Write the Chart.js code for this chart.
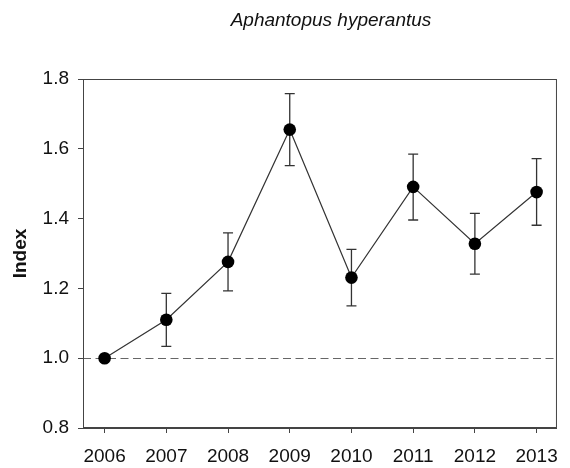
<!DOCTYPE html>
<html lang="en">
<head>
    <meta charset="UTF-8">
    <title>Aphantopus hyperantus</title>
    <script src="https://cdn.jsdelivr.net/npm/chart.js"></script>
    <style>
        html, body { margin: 0; padding: 0; background: #fff; }
        #wrap { width: 570px; height: 468px; }
    </style>
</head>
<body>
    <div id="wrap"><canvas id="indexChart" width="570" height="468"></canvas></div>
    <script>
        // data
        const years = [2006, 2007, 2008, 2009, 2010, 2011, 2012, 2013];
        const indexValues = [1.0, 1.110, 1.276, 1.655, 1.231, 1.491, 1.328, 1.476];
        const lowerCI = [null, 1.034, 1.193, 1.552, 1.150, 1.396, 1.241, 1.381];
        const upperCI = [null, 1.186, 1.359, 1.758, 1.312, 1.585, 1.415, 1.572];
        const yTicks = [0.8, 1.0, 1.2, 1.4, 1.6, 1.8];
        const baseline = 1.0;
        const titleText = 'Aphantopus hyperantus';

        const FONT = '"Liberation Sans", Arial, sans-serif';

        // frame, dashed reference line and error bars
        const extras = {
            id: 'extras',
            beforeDatasetsDraw(chart) {
                const { ctx, chartArea, scales } = chart;
                const x = scales.x, y = scales.y;
                ctx.save();
                // dashed line at 1.0
                ctx.strokeStyle = '#666';
                ctx.lineWidth = 1;
                ctx.setLineDash([8, 4.5]);
                const by = Math.round(y.getPixelForValue(baseline)) + 0.5;
                ctx.beginPath();
                ctx.moveTo(chartArea.left, by);
                ctx.lineTo(chartArea.right, by);
                ctx.stroke();
                ctx.setLineDash([]);
                // error bars
                ctx.strokeStyle = '#333';
                ctx.lineWidth = 1.3;
                years.forEach((yr, i) => {
                    if (lowerCI[i] == null) return;
                    const px = x.getPixelForValue(yr);
                    const lo = y.getPixelForValue(lowerCI[i]);
                    const hi = y.getPixelForValue(upperCI[i]);
                    ctx.beginPath();
                    ctx.moveTo(px, lo); ctx.lineTo(px, hi);
                    ctx.moveTo(px - 5, lo); ctx.lineTo(px + 5, lo);
                    ctx.moveTo(px - 5, hi); ctx.lineTo(px + 5, hi);
                    ctx.stroke();
                });
                ctx.restore();
            },
            afterDraw(chart) {
                const { ctx, chartArea } = chart;
                ctx.save();
                ctx.strokeStyle = '#444';
                ctx.lineWidth = 1;
                ctx.strokeRect(chartArea.left + 0.5, chartArea.top + 0.5,
                    chartArea.right - chartArea.left - 1, chartArea.bottom - chartArea.top - 1);
                // title
                ctx.fillStyle = '#111';
                ctx.font = 'italic 19px ' + FONT;
                ctx.textAlign = 'center';
                ctx.textBaseline = 'middle';
                ctx.fillText(titleText, 331, 21);
                ctx.restore();
            }
        };

        new Chart(document.getElementById('indexChart'), {
            type: 'line',
            data: {
                datasets: [{
                    label: 'Index',
                    data: years.map((yr, i) => ({ x: yr, y: indexValues[i] })),
                    borderColor: '#333',
                    borderWidth: 1.2,
                    pointRadius: 6.3,
                    pointBackgroundColor: '#000',
                    pointBorderColor: '#000',
                    pointBorderWidth: 0,
                    tension: 0
                }]
            },
            options: {
                responsive: false,
                animation: false,
                layout: { padding: { left: 0, right: 4, top: 79, bottom: 0 } },
                plugins: {
                    legend: { display: false },
                    tooltip: { enabled: false }
                },
                scales: {
                    x: {
                        type: 'linear',
                        min: 2005.65,
                        max: 2013.33,
                        afterBuildTicks: s => { s.ticks = years.map(v => ({ value: v })); },
                        afterFit: s => { s.height = 40; },
                        border: { display: true, color: '#444', width: 1 },
                        grid: { drawOnChartArea: false, drawTicks: true, tickLength: 5, color: '#444' },
                        ticks: {
                            padding: 12,
                            maxRotation: 0,
                            color: '#111',
                            font: { family: FONT, size: 19 },
                            callback: v => String(v)
                        }
                    },
                    y: {
                        min: 0.8,
                        max: 1.8,
                        afterBuildTicks: s => { s.ticks = yTicks.map(v => ({ value: v })); },
                        afterFit: s => { s.width = 83; },
                        border: { display: true, color: '#444', width: 1 },
                        grid: { drawOnChartArea: false, drawTicks: true, tickLength: 5, color: '#444' },
                        ticks: {
                            padding: 9,
                            color: '#111',
                            font: { family: FONT, size: 19 },
                            callback: v => Number(v).toFixed(1)
                        },
                        title: {
                            display: true,
                            text: 'Index',
                            color: '#111',
                            font: { family: FONT, size: 19, weight: 'bold' },
                            padding: { top: 9, bottom: 0 }
                        }
                    }
                }
            },
            plugins: [extras]
        });
    </script>
</body>
</html>
